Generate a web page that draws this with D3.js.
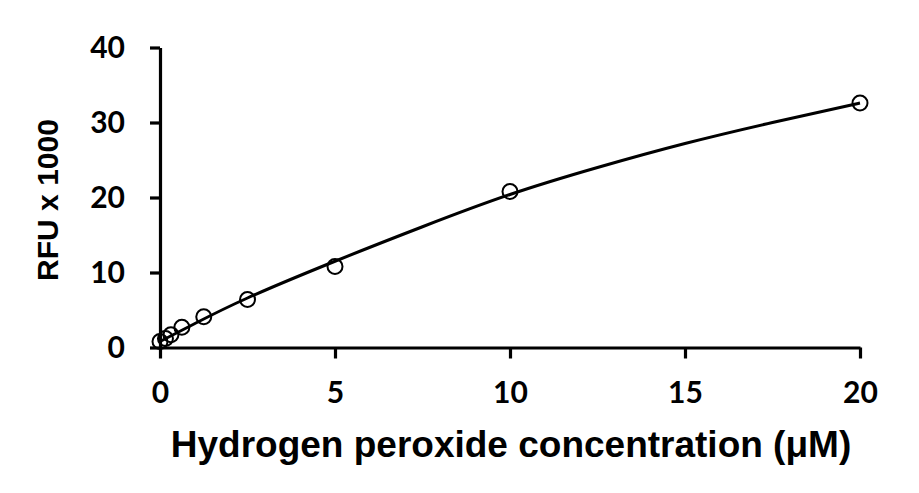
<!DOCTYPE html>
<html>
<head>
<meta charset="utf-8">
<script src="https://cdn.jsdelivr.net/npm/d3@7"></script>
<style>
  html, body { margin: 0; padding: 0; background: #fff; }
  svg { display: block; }
</style>
</head>
<body>
<svg id="chart" width="919" height="493"></svg>
<script>
// Measured data points
const concentration = [0, 0.156, 0.3125, 0.625, 1.25, 2.5, 5, 10, 20];
const rfu = [0.8, 1.2, 1.7, 2.7, 4.1, 6.4, 10.8, 20.8, 32.6];

// Fitted curve
const fitX = [0, 1, 2.5, 5, 7.5, 10, 12.5, 15, 17.5, 20];
const fitY = [0.8, 3.2, 6.6, 11.5, 16.1, 20.4, 24.0, 27.2, 30.0, 32.6];

const xTicks = [0, 5, 10, 15, 20];
const yTicks = [0, 10, 20, 30, 40];
const xTitle = "Hydrogen peroxide concentration (\u03BCM)";
const yTitle = "RFU x 1000";

const svg = d3.select("#chart");
const x = d3.scaleLinear().domain([0, 20]).range([160, 860]);
const y = d3.scaleLinear().domain([0, 40]).range([347.5, 47.5]);

const tickFont = "Lato, 'Open Sans', sans-serif";

const xAxis = svg.append("g")
  .attr("transform", `translate(0,${y(0)})`)
  .call(d3.axisBottom(x).tickValues(xTicks).tickFormat(d3.format("d"))
    .tickSize(11).tickSizeOuter(0).tickPadding(23));
const yAxis = svg.append("g")
  .attr("transform", `translate(${x(0)},0)`)
  .call(d3.axisLeft(y).tickValues(yTicks).tickFormat(d3.format("d"))
    .tickSize(10).tickSizeOuter(0).tickPadding(25));

[xAxis, yAxis].forEach(g => {
  g.select(".domain").attr("stroke", "#000").attr("stroke-width", 3.2);
  g.selectAll(".tick line").attr("stroke", "#000").attr("stroke-width", 3.2);
  g.selectAll(".tick text")
    .attr("fill", "#000")
    .style("font-family", tickFont)
    .style("font-weight", "bold")
    .style("font-size", "30px");
});

// fitted curve
const line = d3.line()
  .x((d, i) => x(fitX[i]))
  .y(d => y(d))
  .curve(d3.curveNatural);
svg.append("path")
  .datum(fitY)
  .attr("d", line)
  .attr("fill", "none")
  .attr("stroke", "#000")
  .attr("stroke-width", 3);

// data points
svg.append("g").selectAll("circle")
  .data(concentration)
  .join("circle")
  .attr("cx", d => x(d))
  .attr("cy", (d, i) => y(rfu[i]))
  .attr("r", 7.5)
  .attr("fill", "none")
  .attr("stroke", "#000")
  .attr("stroke-width", 2);

// axis titles
svg.append("text")
  .attr("x", 511)
  .attr("y", 457)
  .attr("text-anchor", "middle")
  .style("font-family", "'Liberation Sans', Arial, sans-serif")
  .style("font-weight", "bold")
  .style("font-size", "37px")
  .attr("fill", "#000")
  .text(xTitle);

svg.append("text")
  .attr("transform", "translate(58,200) rotate(-90)")
  .attr("text-anchor", "middle")
  .style("font-family", "'Liberation Sans', Arial, sans-serif")
  .style("font-weight", "bold")
  .style("font-size", "30px")
  .attr("fill", "#000")
  .text(yTitle);
</script>
</body>
</html>
